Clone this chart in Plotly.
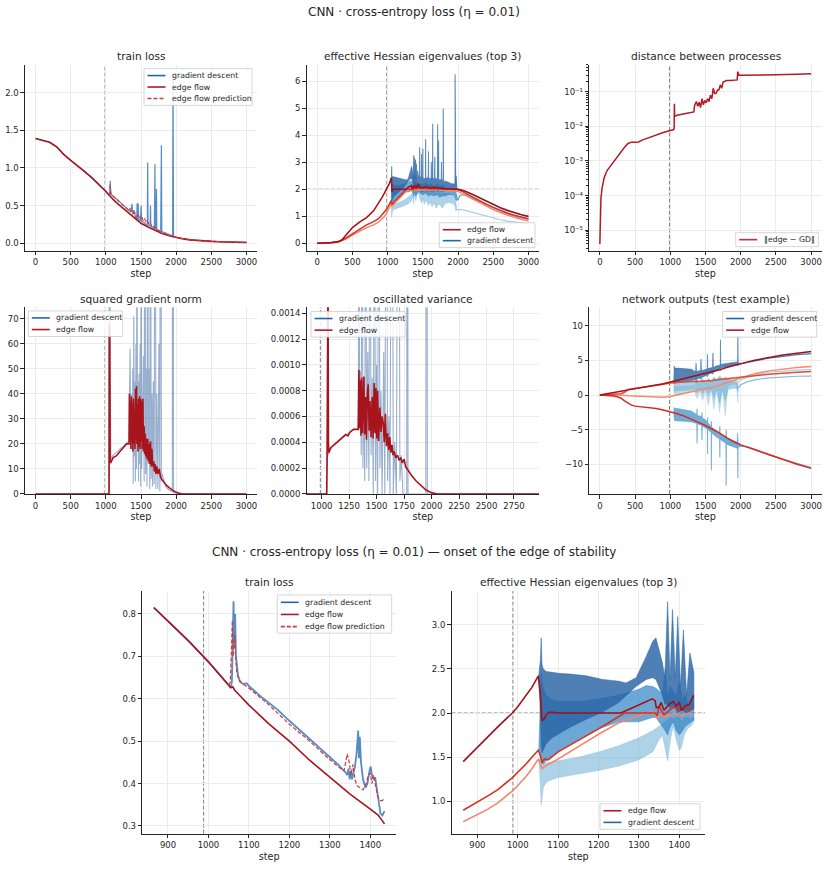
import plotly.graph_objects as go

W, H = 828, 896
FONT = "DejaVu Sans"
INK = "#262626"

# ======================= DATA =======================
# --- train loss (full run) ---
loss_ef_x = [0,100,200,300,400,500,600,700,800,865,900,950,987,1000,1050,1055,1060,1065,1075,1100,
             1150,1200,1250,1300,1350,1400,1420,1435,1500,1600,1700,1800,1900,2000,2100,2200,2300,2400,2500,2600,
             2700,2800,2900,3000]
loss_ef = [1.39,1.37,1.34,1.28,1.18,1.10,1.03,0.95,0.87,0.815,0.783,0.737,0.70,0.687,0.632,0.626,0.628,0.62,0.61,0.585,
           0.54,0.50,0.455,0.415,0.375,0.34,0.325,0.305,0.265,0.215,0.17,0.13,0.10,0.075,0.058,0.045,0.036,0.030,0.025,0.021,
           0.018,0.015,0.013,0.011]

loss_gd_x = [0,100,200,300,400,500,600,700,800,865,
             900,950,987,1000,1050,1055,1058,1060,1062,1064,
             1066,1068,1070,1073,1078,1085,1095,1100,1130,1170,
             1200,1250,1290,1320,1340,1343,1346,1349,1352,1355,
             1358,1362,1366,1370,1372,1374,1377,1382,1388,1393,
             1398,1401,1404,1408,1412,1416,1420,1425,1430,1435,
             1440,1445,1450,1460,1466,1490,1497,1502,1508,1540,
             1560,1590,1595,1600,1630,1635,1640,1690,1698,1703,
             1715,1720,1725,1780,1790,1796,1950,1955,1960,1963,
             2000,2100,2200,2300,2400,2500,2600,2700,2800,2900,3000]
loss_gd = [1.39,1.37,1.34,1.28,1.18,1.10,1.03,0.95,0.87,0.815,
           0.783,0.737,0.70,0.687,0.632,0.626,0.64,0.72,0.83,0.72,
           0.80,0.70,0.68,0.655,0.64,0.635,0.636,0.63,0.605,0.575,
           0.548,0.505,0.47,0.445,0.425,0.42,0.435,0.41,0.43,0.41,
           0.425,0.44,0.47,0.525,0.46,0.51,0.45,0.41,0.39,0.40,
           0.43,0.44,0.42,0.41,0.415,0.39,0.36,0.33,0.325,0.335,
           0.33,0.53,0.32,0.53,0.31,0.30,0.38,0.50,0.29,0.28,
           0.26,0.245,1.07,0.24,0.23,0.50,0.225,0.2,1.05,0.2,
           0.19,0.72,0.185,0.16,1.30,0.155,0.1,2.26,1.42,0.09,
           0.08,0.06,0.046,0.037,0.030,0.025,0.021,0.018,0.015,0.013,0.011]

loss_pred_x = [1050,1054,1057,1059,1061,1063,1065,1067,1070,1075,
               1085,1100,1150,1200,1250,1290,1320,1335,1343,1348,
               1352,1357,1362,1367,1375,1382,1390,1395,1400,1404,
               1408,1412,1418,1425,1430,1435,1450,1470,1490,1510,
               1530,1550,1570,1590,1610,1630,1650,1670,1700,1750,
               1800,1900,2000,2200,2500,3000]
loss_pred = [0.632,0.64,0.72,0.785,0.70,0.72,0.75,0.70,0.66,0.645,
             0.635,0.625,0.585,0.54,0.50,0.465,0.44,0.43,0.47,0.45,
             0.42,0.445,0.41,0.395,0.39,0.385,0.40,0.42,0.425,0.40,
             0.42,0.40,0.37,0.36,0.36,0.365,0.36,0.38,0.33,0.36,
             0.30,0.33,0.28,0.30,0.25,0.27,0.23,0.24,0.2,0.17,
             0.14,0.105,0.078,0.046,0.025,0.011]

# --- effective Hessian eigenvalues: edge flow (top 3) ---
eig1_x = [0,100,200,300,350,400,450,500,600,700,
          800,865,880,900,925,950,975,987,1000,1020,
          1035,1051,1056,1060,1065,1072,1080,1100,1200,1255,
          1280,1300,1320,1333,1340,1343,1350,1355,1362,1375,
          1385,1392,1400,1405,1415,1425,1435,1450,1500,1550,
          1600,1650,1700,1750,1800,1850,1900,1950,2000,2050,
          2100,2200,2300,2400,2500,2600,2700,2800,2900,3000]
eig1 = [0,0.01,0.03,0.07,0.12,0.28,0.45,0.58,0.78,0.95,
        1.2,1.45,1.52,1.61,1.72,1.84,1.95,2.0,2.07,2.19,
        2.29,2.42,2.2,1.91,1.93,1.99,2.01,2.0,2.0,2.0,
        2.05,2.09,2.13,2.16,2.14,2.06,2.07,2.12,2.03,2.10,
        2.13,2.08,2.12,2.03,2.08,2.10,2.20,2.08,2.06,2.1,
        2.04,2.07,2.05,2.04,2.03,2.02,2.02,2.01,2.0,1.97,
        1.93,1.82,1.69,1.56,1.43,1.32,1.22,1.13,1.06,1.0]
eig2_x = [0,100,200,300,400,500,600,700,800,865,
          900,925,950,975,987,1000,1020,1035,1051,1056,
          1060,1066,1075,1100,1150,1200,1250,1265,1300,1340,
          1345,1350,1355,1362,1375,1390,1400,1415,1425,1435,
          1500,1600,1700,1800,1900,2000,2050,2100,2200,2300,
          2400,2500,2600,2700,2800,2900,3000]
eig2 = [0,0.005,0.02,0.06,0.18,0.35,0.52,0.68,0.8,0.9,
        0.99,1.06,1.13,1.22,1.27,1.33,1.42,1.5,1.58,1.52,
        1.44,1.48,1.47,1.56,1.69,1.82,1.96,2.0,2.0,2.0,
        1.97,2.08,2.03,1.98,2.03,2.08,2.02,2.06,2.05,2.05,
        2.03,2.02,2.02,2.01,2.0,1.99,1.93,1.86,1.72,1.58,
        1.45,1.33,1.22,1.12,1.04,0.97,0.91]
eig3_x = [0,100,200,300,400,500,600,700,800,865,
          900,925,950,975,987,1000,1020,1035,1051,1056,
          1060,1068,1100,1150,1200,1250,1300,1333,1341,1348,
          1355,1362,1375,1390,1400,1415,1425,1435,1500,1600,
          1700,1800,1900,1950,2000,2050,2100,2200,2300,2400,
          2500,2600,2700,2800,2900,3000]
eig3 = [0,0.005,0.015,0.05,0.15,0.3,0.45,0.58,0.68,0.77,
        0.85,0.91,0.98,1.07,1.12,1.18,1.28,1.37,1.48,1.42,
        1.37,1.40,1.48,1.62,1.76,1.89,1.97,2.02,1.96,1.94,
        1.99,1.96,1.97,2.0,1.96,1.99,2.0,1.97,1.98,1.98,
        1.97,1.96,1.96,1.95,1.93,1.85,1.78,1.64,1.5,1.37,
        1.25,1.14,1.04,0.96,0.89,0.82]

# --- effective Hessian eigenvalues: gradient descent (oscillation envelopes + late lines) ---
gd_b1_x = [1052,1056,1058,1060,1063,1070,1085,1100,1130,1170,
           1210,1250,1268,1293,1318,1334,1342,1350,1358,1364,
           1371,1377,1383,1390,1396,1403,1410,1418,1426,1436,
           1440,1451,1455,1459,1476,1480,1484,1496,1500,1504,
           1536,1540,1544,1576,1580,1584,1616,1620,1624,1636,
           1640,1644,1666,1670,1674,1706,1710,1714,1720,1724,
           1728,1760,1764,1768,1786,1790,1794,1830,1870,1910,
           1940,1955,1958,1961,1968,1972,1976,1985,2000]
gd_b1_up = [2.42,2.6,2.85,2.55,2.5,2.47,2.46,2.45,2.44,2.42,
            2.38,2.36,2.34,2.40,2.64,2.81,2.85,2.72,2.57,2.4,
            3.26,2.38,3.17,2.4,3.09,2.3,2.94,2.2,2.68,2.46,
            2.45,2.45,3.55,2.45,2.45,3.3,2.45,2.45,3.5,2.4,
            2.4,3.85,2.4,2.45,3.4,2.4,2.4,3.0,2.4,2.45,
            4.42,2.4,2.4,3.2,2.4,2.4,4.4,2.4,2.4,3.8,
            2.35,2.35,3.0,2.35,2.35,4.98,2.3,2.3,2.25,2.2,
            2.2,2.2,6.25,2.15,2.1,2.5,2.05,2.03,2.0]
gd_b1_lo = [2.42,2.0,1.6,1.55,1.58,1.65,1.72,1.76,1.84,1.93,
            2.01,2.12,2.2,2.3,2.38,2.4,2.38,2.3,2.2,2.1,
            2.1,2.05,2.08,2.05,2.0,2.05,2.02,2.0,2.02,2.05,
            2.0,1.95,1.95,1.95,2.0,1.9,2.0,1.95,1.9,2.0,
            1.95,1.9,1.95,2.0,1.9,2.0,1.95,1.9,1.95,2.0,
            1.9,2.0,1.95,1.9,1.95,2.0,1.9,2.0,1.95,1.9,
            1.95,2.0,1.9,2.0,1.95,1.9,1.95,2.0,2.0,2.0,
            2.0,2.0,2.0,2.0,1.98,1.95,1.98,1.98,1.98]
gd_b2_x = [1052,1056,1058,1062,1070,1085,1100,1150,1200,1250,
           1300,1318,1334,1342,1350,1358,1365,1371,1378,1385,
           1392,1400,1408,1415,1422,1430,1436,
           1460,1500,1540,1580,1620,1660,1700,1740,1780,1820,
           1860,1900,1940,1960,1970,1985,2000]
gd_b2_up = [1.58,2.2,2.45,2.3,2.2,2.15,2.13,2.13,2.16,2.2,
            2.27,2.31,2.30,2.28,2.25,2.22,2.5,2.2,2.3,2.25,
            2.2,2.35,2.15,2.2,2.1,2.15,2.2,
            2.2,2.15,2.25,2.15,2.2,2.1,2.2,2.1,2.15,2.05,
            2.05,2.0,1.95,1.95,1.9,1.75,1.62]
gd_b2_lo = [1.58,1.5,1.45,1.42,1.46,1.52,1.57,1.7,1.82,1.9,
            1.9,1.93,1.95,1.95,1.9,1.85,1.8,1.75,1.85,1.9,
            1.8,1.75,1.8,1.85,1.88,1.9,1.92,
            1.85,1.8,1.85,1.75,1.8,1.75,1.8,1.7,1.75,1.75,
            1.8,1.8,1.8,1.7,1.6,1.58,1.6]
gd_b3_x = [1052,1056,1058,1060,1063,1068,1075,1100,1150,1200,
           1250,1300,1334,1350,1358,1365,1371,1378,1385,1392,
           1400,1405,1412,1420,1428,1436,
           1450,1480,1500,1520,1550,1580,1600,1630,1660,1690,
           1720,1750,1780,1810,1850,1900,1940,1960,1966,1972,
           1980,1990,2000]
gd_b3_up = [1.48,1.46,1.45,1.45,1.44,1.43,1.44,1.46,1.5,1.56,
            1.63,1.72,1.8,1.85,1.88,1.9,1.92,1.95,1.93,1.95,
            1.97,1.9,1.95,1.95,1.93,1.95,
            1.95,1.93,1.95,1.9,1.93,1.9,1.92,1.88,1.9,1.85,
            1.88,1.85,1.87,1.85,1.85,1.82,1.8,1.75,1.5,1.3,
            1.28,1.26,1.25]
gd_b3_lo = [1.48,1.2,0.96,1.05,1.15,1.2,1.23,1.27,1.31,1.35,
            1.4,1.47,1.56,1.7,1.75,1.6,1.46,1.7,1.85,1.7,
            1.58,1.61,1.75,1.82,1.85,1.9,
            1.7,1.5,1.65,1.45,1.6,1.4,1.55,1.35,1.5,1.3,
            1.45,1.4,1.3,1.45,1.5,1.5,1.45,1.35,1.2,1.2,
            1.22,1.23,1.24]
gd_eig1_late_x = [2000,2050,2100,2200,2300,2400,2500,2600,2700,2800,2900,3000]
gd_eig1_late = [1.98,1.96,1.92,1.81,1.68,1.55,1.42,1.31,1.21,1.12,1.05,0.98]
gd_eig2_late_x = [2000,2030,2100,2200,2300,2400,2500,2600,2700,2800,2900,3000]
gd_eig2_late = [1.62,1.78,1.8,1.68,1.55,1.42,1.30,1.19,1.09,1.01,0.94,0.88]
gd_eig3_late_x = [2000,2050,2100,2200,2300,2400,2500,2600,2700,2800,2900,3000]
gd_eig3_late = [1.24,1.25,1.22,1.15,1.07,1.0,0.93,0.87,0.82,0.78,0.75,0.72]

# --- distance between processes ---
dist_x = [0,3,8,15,30,60,100,150,200,250,
          300,350,400,450,500,550,600,700,800,900,
          1000,1050,1055,1058,1062,1070,1100,1200,1300,1335,
          1345,1355,1370,1390,1410,1430,1450,1470,1490,1510,
          1530,1550,1570,1590,1610,1630,1650,1670,1690,1710,
          1730,1750,1780,1800,1850,1900,1950,1958,1965,1975,
          2000,2200,2500,2800,3000]
dist = [4.0e-6,1.6e-5,4.0e-5,8e-5,1.6e-4,3.2e-4,5.2e-4,7.1e-4,1.05e-3,1.4e-3,
        1.9e-3,2.5e-3,3.2e-3,3.5e-3,3.5e-3,3.55e-3,4.0e-3,4.8e-3,5.6e-3,6.6e-3,
        7.6e-3,8.1e-3,8.9e-3,0.045,0.02,0.02,0.021,0.023,0.025,0.026,
        0.04,0.045,0.052,0.038,0.05,0.035,0.063,0.042,0.056,0.048,
        0.063,0.052,0.079,0.063,0.126,0.089,0.089,0.112,0.112,0.158,
        0.126,0.19,0.2,0.21,0.21,0.21,0.22,0.38,0.32,0.30,
        0.30,0.30,0.31,0.32,0.33]

# --- squared gradient norm ---
sq_ef_x = [0,1000,1046,1049,1055,1061,1071,1104,1152,1200,
           1247,1295,1330,1335,1342,1350,1356,1363,1369,1376,
           1383,1392,1399,1407,1414,1422,1428,1436,1442,1450,
           1457,1465,1472,1480,1487,1495,1502,1510,1518,1527,
           1535,1545,1552,1560,1568,1578,1586,1596,1605,1615,
           1625,1635,1645,1655,1665,1680,1690,1700,1712,1725,
           1740,1760,1775,1790,1820,1860,1900,1950,2000,2040,
           2080,3000]
sq_ef = [0,0,0,68,61,13,12.6,14.5,15.3,17,
         18.6,20,20,40,22,37,18,39,21,36,
         17,38,20,33,18,42,22,43,20,36,
         17,38,19,39,18,38,21,37,18,38,
         17,27,16,24,15,22,14,22,13,20,
         12,21,11,18,11,13,9,12,8,11,
         8,10,7,6,5,3.5,2.5,1.4,0.7,0.2,
         0,0]
sq_gd_x = [0,1000,1044,1047,1052,1056,1060,1070,1100,1150,
           1200,1250,1300,1330,1345,1352,1360,1368,1375,1383,
           1390,1397,1405,1412,1420,1428,1436,1443,1450,1458,
           1465,1473,1480,1488,1495,1503,1510,1518,1526,1535,
           1545,1555,1565,1575,1585,1595,1605,1615,1625,1635,
           1645,1655,1665,1675,1688,1700,1712,1725,1740,1755,
           1768,1780,1790,1800,1850,1900,1945,1955,1962,1970,
           2000,2050,3000]
sq_gd = [0,0,0,90,62,100,14,14,15.5,16.5,
         18,19,20.5,21,58,30,40,35,20,50,
         4,71,15,45,5,60,10,150,20,45,
         5,48,12,60,3,140,10,35,30,55,
         5,200,8,50,3,160,12,50,2,180,
         6,40,3,45,4,250,2,40,2,60,
         1,300,5,8,3,1.5,1,400,0.5,0.5,
         0.3,0,0]

# --- oscillated variance ---
var_ef_x = [864,1046,1050,1054,1058,1062,1066,1075,1085,1100,
            1150,1200,1220,1240,1260,1290,1320,1333,1339,1345,
            1352,1358,1365,1372,1384,1392,1400,1408,1416,1424,
            1432,1440,1450,1460,1469,1478,1486,1494,1502,1510,
            1518,1530,1540,1550,1560,1570,1580,1590,1600,1610,
            1620,1630,1640,1650,1660,1675,1690,1705,1720,1735,
            1750,1765,1790,1820,1860,1900,1950,2000,2050,2978]
var_ef = [0,0,0.0003,0.0016,0.0016,0.0004,0.00032,0.00034,0.00036,0.00037,
          0.00041,0.00045,0.00046,0.00045,0.00048,0.0005,0.0005,0.0005,0.00096,0.00051,
          0.00088,0.00045,0.0009,0.00047,0.00091,0.00046,0.00075,0.00042,0.00078,0.00085,
          0.00049,0.00072,0.00044,0.00075,0.00043,0.00086,0.00047,0.00082,0.00043,0.0008,
          0.00041,0.00067,0.00048,0.0006,0.00055,0.0004,0.00062,0.00037,0.00047,0.00034,
          0.00044,0.00032,0.00038,0.0003,0.00033,0.00028,0.0003,0.00026,0.00028,0.00024,
          0.00027,0.00021,0.00018,0.00014,0.0001,0.00007,0.00003,0.00001,0.0,0.0]
var_gd_x = [864,1046,1050,1054,1058,1062,1070,1100,1200,1300,
            1333,1340,1346,1352,1360,1368,1376,1384,1392,1400,
            1410,1420,1430,1440,1450,1460,1470,1480,1490,1500,
            1510,1520,1530,1540,1550,1565,1575,1590,1600,1612,
            1622,1640,1652,1665,1680,1700,1712,1725,1740,1774,
            1780,1786,1850,1948,1955,1962,2978]
var_gd = [0,0,0.0004,0.003,0.0012,0.0003,0.00034,0.00037,0.00045,0.0005,
          0.0005,0.0025,0.0005,0.00095,0.0003,0.003,0.0002,0.0009,0.0001,0.0028,
          0.0002,0.0011,0.0001,0.003,0.0003,0.0009,0.0,0.003,0.0001,0.001,
          0.0,0.0035,0.0002,0.0008,0.0,0.0011,0.0,0.004,0.0001,0.0006,
          0.0,0.0045,0.0,0.0004,0.0,0.005,0.0001,0.0003,0.0,0.0,
          0.006,0.0,0.0,0.0,0.008,0.0,0.0]

# --- network outputs (test example): edge flow, 4 logits ---
out1_x = [0,100,200,300,400,500,600,700,800,900,1000,1100,1200,1300,1400,1500,1600,1700,1800,1900,2000,2100,2200,2400,2600,2800,3000]
out1 = [0,0.15,0.35,0.55,0.75,0.92,1.08,1.25,1.45,1.65,1.9,2.15,2.35,2.55,2.8,3.05,3.3,3.65,4.0,4.3,4.55,4.8,5.05,5.45,5.8,6.05,6.3]
out2_x = [0,100,200,300,350,400,500,600,700,800,900,1000,1100,1200,1300,1400,1500,1600,1700,1800,1900,2000,2100,2200,2400,2600,2800,3000]
out2 = [0,0.05,0.1,0.2,0.4,0.8,0.95,1.08,1.22,1.4,1.55,1.75,1.85,1.9,1.95,1.97,2.0,2.12,2.25,2.38,2.5,2.6,2.7,2.8,3.0,3.2,3.3,3.4]
out3_x = [0,100,200,300,400,500,600,700,800,900,1000,1100,1200,1300,1400,1500,1600,1700,1800,1900,2000,2100,2200,2400,2600,2800,3000]
out3 = [0,0.02,0.03,0.0,-0.1,-0.15,-0.2,-0.25,-0.3,-0.3,-0.2,0.05,0.3,0.55,0.75,0.95,1.1,1.4,1.75,2.1,2.5,2.85,3.1,3.5,3.8,4.0,4.15]
out4_x = [0,100,200,250,300,350,400,450,500,600,700,800,900,1000,1100,1200,1300,1400,1500,1600,1700,1800,1900,2000,2100,2200,2400,2600,2800,3000]
out4 = [0,-0.05,-0.15,-0.25,-0.45,-0.85,-1.2,-1.45,-1.6,-1.7,-1.8,-1.95,-2.15,-2.4,-2.7,-3.05,-3.45,-3.95,-4.4,-4.9,-5.5,-6.15,-6.75,-7.2,-7.55,-7.9,-8.7,-9.35,-10.0,-10.6]

# --- network outputs: gradient descent envelopes + late lines ---
gdo1_x = [1050,1055,1060,1100,1200,1300,1340,1360,1366,1372,1400,1430,1436,1442,1470,1500,1524,1528,1532,1560,
          1600,1606,1612,1650,1700,1709,1713,1717,1750,1800,1850,1900,1950,1956,1960,1964,2000]
gdo1_up = [1.95,4.2,3.9,3.9,3.85,3.75,3.5,3.4,4.6,3.4,3.5,3.55,5.2,3.6,3.6,3.7,3.8,5.9,3.8,3.9,
           4.0,6.1,4.0,4.2,4.3,4.5,8.0,4.4,4.5,4.6,4.7,4.75,4.8,4.8,8.5,4.7,4.55]
gdo1_lo = [1.95,1.6,1.8,1.85,2.0,2.1,2.2,2.2,1.8,2.3,2.4,2.5,2.2,2.5,2.7,2.8,2.9,2.6,2.9,3.1,
           3.2,3.0,3.3,3.5,3.7,3.8,3.5,3.9,4.0,4.1,4.2,4.3,4.4,4.4,4.2,4.45,4.5]
gdo2_x = [1050,1056,1062,1100,1200,1300,1340,1380,1420,1460,1500,1540,1580,1620,1660,1700,1740,1780,1820,1860,1900,1940,1960,1965]
gdo2_up = [1.8,2.1,2.0,2.0,2.0,2.0,1.9,2.2,1.9,2.3,2.0,2.4,2.1,2.6,2.2,2.8,2.3,2.5,2.3,2.2,2.0,1.8,1.5,1.0]
gdo2_lo = [1.8,0.5,0.6,0.65,0.7,0.8,0.9,0.3,1.0,0.2,1.0,0.0,0.9,-0.5,0.8,-1.2,0.7,-0.8,0.8,0.9,1.0,1.0,0.5,1.0]
gdo3_x = [1050,1056,1062,1100,1200,1300,1340,1380,1420,1460,1500,1540,1580,1620,1660,1700,1740,1780,1820,1860,1900,1940,1960,1965]
gdo3_up = [-0.15,1.4,1.2,1.2,1.3,1.4,1.4,1.8,1.6,2.0,1.8,2.2,2.0,2.4,2.1,2.6,2.3,2.6,2.4,2.3,2.3,2.2,2.0,1.8]
gdo3_lo = [-0.15,-0.1,0.0,0.05,0.2,0.4,0.5,-0.5,0.6,-0.8,0.7,-1.5,0.8,-2.0,0.9,-2.5,1.0,-3.0,1.3,1.5,1.6,1.5,-1.0,1.8]
gdo4_x = [1050,1055,1060,1100,1200,1300,1340,1376,1380,1384,1420,1446,1450,1454,1490,1526,1530,1534,1560,1579,
          1583,1587,1620,1660,1700,1704,1708,1750,1789,1793,1797,1850,1900,1950,1956,1960,1964,2000]
gdo4_up = [-2.4,-1.8,-1.9,-1.95,-2.1,-2.3,-2.6,-2.8,-2.0,-3.0,-3.0,-3.2,-2.5,-3.3,-3.5,-3.9,-3.2,-4.0,-4.3,-4.5,
           -3.8,-4.6,-4.9,-5.2,-5.4,-4.5,-5.5,-5.8,-6.0,-5.0,-6.2,-6.4,-6.6,-6.8,-5.5,-6.6,-6.9,-7.1]
gdo4_lo = [-2.4,-3.3,-3.7,-3.75,-3.8,-3.9,-4.0,-4.1,-7.0,-4.2,-4.3,-4.4,-6.5,-4.5,-4.7,-4.9,-8.5,-5.0,-5.2,-5.4,
           -10.9,-5.5,-5.8,-6.1,-6.3,-9.0,-6.4,-6.7,-7.0,-13.1,-7.1,-7.3,-7.5,-7.7,-7.7,-12.0,-7.6,-7.4]
gd_out1_late_x = [2000,2100,2200,2400,2600,2800,3000]
gd_out1_late = [4.5,4.75,4.95,5.35,5.65,5.85,6.0]
gd_out2_late_x = [1965,2000,2100,2200,2400,2600,2800,3000]
gd_out2_late = [1.0,1.5,1.95,2.2,2.5,2.65,2.72,2.75]
gd_out3_late_x = [1965,2000,2100,2200,2400,2600,2800,3000]
gd_out3_late = [1.8,2.2,2.6,2.9,3.3,3.5,3.6,3.7]
gd_out4_late_x = [2000,2100,2200,2400,2600,2800,3000]
gd_out4_late = [-7.4,-7.5,-7.85,-8.65,-9.3,-9.9,-10.5]

eos_step = 988          # onset of edge of stability (vertical marker)
threshold = 2.0         # 2 / eta
zoom_lo, zoom_hi = 865, 1436

# sanity checks
for a, b in [(loss_ef_x, loss_ef), (loss_gd_x, loss_gd), (loss_pred_x, loss_pred), (eig1_x, eig1), (eig2_x, eig2),
             (eig3_x, eig3), (dist_x, dist), (sq_ef_x, sq_ef), (sq_gd_x, sq_gd), (var_ef_x, var_ef), (var_gd_x, var_gd),
             (out1_x, out1), (out2_x, out2), (out3_x, out3), (out4_x, out4)]:
    assert len(a) == len(b), (len(a), len(b))
for a, b, c in [(gd_b1_x, gd_b1_up, gd_b1_lo), (gd_b2_x, gd_b2_up, gd_b2_lo), (gd_b3_x, gd_b3_up, gd_b3_lo),
                (gdo1_x, gdo1_up, gdo1_lo), (gdo2_x, gdo2_up, gdo2_lo), (gdo3_x, gdo3_up, gdo3_lo), (gdo4_x, gdo4_up, gdo4_lo)]:
    assert len(a) == len(b) == len(c), (len(a), len(b), len(c))

# ======================= STYLE =======================
C_GD_LEG = "#2166ac"
C_EF_LEG = "#b2182b"
C_PRED = "#d03a3e"
C_EF = "#a8141c"
C_GD_LINE = "rgba(55,120,185,0.85)"
C_GD_THIN = "rgba(70,110,165,0.55)"
C_E1, C_E2, C_E3 = "#a50f15", "#d7301f", "#f4866b"
C_B1 = "rgba(40,100,165,0.82)"
C_B2 = "rgba(45,130,195,0.7)"
C_B3 = "rgba(107,174,214,0.55)"
C_O1, C_O2, C_O3, C_O4 = "#a50f15", "#e34a33", "#f8896b", "#d42b22"

panels = {  # pixel boxes of plot areas: x0, x1, ytop, ybottom
    1: (25, 257, 65, 252),
    2: (306.7, 539, 65, 252),
    3: (589.3, 821.7, 65, 252),
    4: (25, 257, 309, 496.7),
    5: (306.7, 539, 309, 496.7),
    6: (589.3, 821.7, 309, 496.7),
    7: (142.3, 396, 594.3, 838.3),
    8: (451.7, 705, 594.3, 838.3),
}

def xa(i):
    return "x" if i == 1 else f"x{i}"

def ya(i):
    return "y" if i == 1 else f"y{i}"

fig = go.Figure()

def line(i, xs, ys, color, width=1.5, dash=None):
    fig.add_trace(go.Scatter(x=xs, y=ys, mode="lines", xaxis=xa(i), yaxis=ya(i),
                             line=dict(color=color, width=width, dash=dash),
                             hoverinfo="skip", showlegend=False))

def band(i, xs, up, lo, color):
    fig.add_trace(go.Scatter(x=list(xs) + list(xs)[::-1], y=list(up) + list(lo)[::-1],
                             mode="lines", fill="toself", fillcolor=color,
                             line=dict(color=color, width=0.6), xaxis=xa(i), yaxis=ya(i),
                             hoverinfo="skip", showlegend=False))

def clip(xs, *cols, lo=zoom_lo, hi=zoom_hi):
    idx = [k for k, x in enumerate(xs) if lo <= x <= hi]
    return [[xs[k] for k in idx]] + [[c[k] for k in idx] for c in cols]

# ---- Panel 1: train loss ----
line(1, loss_gd_x, loss_gd, C_GD_LINE, 1.2)
line(1, loss_ef_x, loss_ef, C_EF, 1.6)
line(1, loss_pred_x, loss_pred, C_PRED, 1.1, "4px,2px")

# ---- Panel 2: eigenvalues ----
band(2, gd_b3_x, gd_b3_up, gd_b3_lo, C_B3)
band(2, gd_b2_x, gd_b2_up, gd_b2_lo, C_B2)
band(2, gd_b1_x, gd_b1_up, gd_b1_lo, C_B1)
line(2, gd_eig3_late_x, gd_eig3_late, "#a6cde4", 1.2)
line(2, gd_eig2_late_x, gd_eig2_late, "#5fa2d2", 1.2)
line(2, gd_eig1_late_x, gd_eig1_late, "#3a78b5", 1.2)
line(2, eig3_x, eig3, C_E3, 1.5)
line(2, eig2_x, eig2, C_E2, 1.5)
line(2, eig1_x, eig1, C_E1, 1.5)

# ---- Panel 3: distance ----
line(3, dist_x, dist, "#b01c24", 1.5)

# ---- Panel 4: squared gradient norm ----
line(4, sq_gd_x, sq_gd, C_GD_THIN, 1.1)
line(4, sq_ef_x, sq_ef, C_EF, 1.6)

# ---- Panel 5: oscillated variance ----
line(5, var_gd_x, var_gd, C_GD_THIN, 1.1)
line(5, var_ef_x, var_ef, C_EF, 1.6)

# ---- Panel 6: network outputs ----
band(6, gdo3_x, gdo3_up, gdo3_lo, "rgba(158,202,225,0.65)")
band(6, gdo2_x, gdo2_up, gdo2_lo, "rgba(107,174,214,0.55)")
band(6, gdo4_x, gdo4_up, gdo4_lo, "rgba(66,146,198,0.75)")
band(6, gdo1_x, gdo1_up, gdo1_lo, "rgba(40,100,165,0.8)")
line(6, gd_out3_late_x, gd_out3_late, "#a6cde4", 1.2)
line(6, gd_out2_late_x, gd_out2_late, "#86b9dc", 1.2)
line(6, gd_out4_late_x, gd_out4_late, "#6aa2d2", 1.2)
line(6, gd_out1_late_x, gd_out1_late, "#3a78b5", 1.2)
line(6, out3_x, out3, C_O3, 1.5)
line(6, out2_x, out2, C_O2, 1.5)
line(6, out4_x, out4, C_O4, 1.5)
line(6, out1_x, out1, C_O1, 1.5)

# ---- Panel 7: train loss (zoom) ----
gx, gy = clip(loss_gd_x, loss_gd)
line(7, gx, gy, C_GD_LINE, 1.8)
ex, ey = clip(loss_ef_x, loss_ef)
line(7, ex, ey, C_EF, 1.6)
px_, py_ = clip(loss_pred_x, loss_pred)
line(7, px_, py_, C_PRED, 1.2, "4px,2px")

# ---- Panel 8: eigenvalues (zoom) ----
for bx, bu, bl, col in [(gd_b3_x, gd_b3_up, gd_b3_lo, C_B3), (gd_b2_x, gd_b2_up, gd_b2_lo, C_B2),
                        (gd_b1_x, gd_b1_up, gd_b1_lo, C_B1)]:
    cx, cu, cl = clip(bx, bu, bl)
    band(8, cx, cu, cl, col)
for ex_, ey_, col in [(eig3_x, eig3, C_E3), (eig2_x, eig2, C_E2), (eig1_x, eig1, C_E1)]:
    cx, cy = clip(ex_, ey_)
    line(8, cx, cy, col, 1.6)

# ======================= LAYOUT =======================
tickfont = dict(family=FONT, size=8.5, color=INK)
layout = dict(width=W, height=H, margin=dict(l=0, r=0, t=0, b=0), paper_bgcolor="white",
              plot_bgcolor="white", showlegend=False, font=dict(family=FONT, color=INK))

base = dict(showline=True, linecolor=INK, linewidth=1.2, ticks="outside", ticklen=3.5, tickwidth=1,
            tickcolor=INK, showgrid=True, gridcolor="#ebebeb", gridwidth=0.8, zeroline=False,
            tickfont=tickfont)

xcfg = {
    1: dict(range=[-150, 3150], tick0=0, dtick=500),
    2: dict(range=[-150, 3150], tick0=0, dtick=500),
    3: dict(range=[-150, 3150], tick0=0, dtick=500),
    4: dict(range=[-150, 3150], tick0=0, dtick=500),
    5: dict(range=[864, 2978], tick0=1000, dtick=250),
    6: dict(range=[-150, 3150], tick0=0, dtick=500),
    7: dict(range=[836.5, 1463.5], tick0=900, dtick=100),
    8: dict(range=[836.5, 1463.5], tick0=900, dtick=100),
}
log_major = [1e-5, 1e-4, 1e-3, 1e-2, 1e-1]
log_labels = ["10\u207b\u2075", "10\u207b\u2074", "10\u207b\u00b3", "10\u207b\u00b2", "10\u207b\u00b9"]
log_minor = [k * m for m in [1e-6, 1e-5, 1e-4, 1e-3, 1e-2, 1e-1] for k in range(2, 10)]
ycfg = {
    1: dict(range=[-0.097, 2.37], tick0=0, dtick=0.5, tickformat=".1f"),
    2: dict(range=[-0.27, 6.61], tick0=0, dtick=1),
    3: dict(type="log", range=[-5.59, -0.217], tickmode="array", tickvals=log_major, ticktext=log_labels,
            minor=dict(tickmode="array", tickvals=log_minor, ticks="outside", ticklen=2,
                       tickcolor=INK, showgrid=False)),
    4: dict(range=[0, 74.6], tick0=0, dtick=10),
    5: dict(range=[0, 0.001446], tick0=0, dtick=0.0002, tickformat=".4f"),
    6: dict(range=[-14.3, 12.7], tick0=0, dtick=5),
    7: dict(range=[0.282, 0.854], tick0=0.3, dtick=0.1, tickformat=".1f"),
    8: dict(range=[0.636, 3.38], tick0=1.0, dtick=0.5, tickformat=".1f"),
}

for i, (x0, x1, yt, yb) in panels.items():
    xk = "xaxis" if i == 1 else f"xaxis{i}"
    yk = "yaxis" if i == 1 else f"yaxis{i}"
    layout[xk] = dict(base, domain=[x0 / W, x1 / W], anchor=ya(i),
                      title=dict(text="step", font=dict(family=FONT, size=9.6, color=INK), standoff=3),
                      **xcfg[i])
    layout[yk] = dict(base, domain=[1 - yb / H, 1 - yt / H], anchor=xa(i), **ycfg[i])

shapes = []
annotations = []

# vertical marker at the onset step, horizontal 2/eta threshold
for i in panels:
    shapes.append(dict(type="line", xref=xa(i), yref=f"{ya(i)} domain", x0=eos_step, x1=eos_step, y0=0, y1=1,
                       line=dict(color="#808080", width=1, dash="4px,2px"), layer="below"))
for i in (2, 8):
    shapes.append(dict(type="line", xref=f"{xa(i)} domain", yref=ya(i), x0=0, x1=1, y0=threshold, y1=threshold,
                       line=dict(color="#808080", width=1, dash="4px,2px"), layer="below"))

def P(x, y):
    return x / W, 1 - y / H

def legend(x0, y0, x1, entries, first=7.0, step=11.5):
    n = len(entries)
    y1 = y0 + 14 + step * (n - 1)
    ax0, ay0 = P(x0, y0)
    ax1, ay1 = P(x1, y1)
    shapes.append(dict(type="rect", xref="paper", yref="paper", x0=ax0, x1=ax1, y0=ay1, y1=ay0,
                       fillcolor="rgba(255,255,255,0.85)", line=dict(color="#cccccc", width=0.8),
                       layer="above"))
    for k, (label, color, dash) in enumerate(entries):
        yy = y0 + first + step * k
        hx0, hy = P(x0 + 3.5, yy)
        hx1, _ = P(x0 + 21.5, yy)
        shapes.append(dict(type="line", xref="paper", yref="paper", x0=hx0, x1=hx1, y0=hy, y1=hy,
                           line=dict(color=color, width=1.6, dash=dash), layer="above"))
        tx, ty = P(x0 + 26, yy)
        annotations.append(dict(text=label, x=tx, y=ty, xref="paper", yref="paper", xanchor="left",
                                yanchor="middle", showarrow=False,
                                font=dict(family=FONT, size=7.8, color=INK)))

GD = ("gradient descent", C_GD_LEG, None)
EF = ("edge flow", C_EF_LEG, None)
PR = ("edge flow prediction", C_PRED, "4px,2px")
legend(144, 69, 252, [GD, EF, PR])
legend(439.3, 224, 535, [EF, GD], step=11)
legend(735.7, 234, 818.3, [("\u2016edge \u2212 GD\u2016", "#c0303a", None)])
legend(28.3, 312.7, 122.7, [GD, EF], step=11.7)
legend(311, 313.3, 405, [GD, EF], step=11.7)
legend(722.7, 313.3, 816.7, [GD, EF], step=11.7)
legend(277.3, 598.3, 391.7, [GD, EF, PR], first=7.4, step=12.2)
legend(600, 808.3, 700, [EF, GD], step=11.7)

def text(s, x, y, size):
    tx, ty = P(x, y)
    annotations.append(dict(text=s, x=tx, y=ty, xref="paper", yref="paper", xanchor="center",
                            yanchor="middle", showarrow=False, font=dict(family=FONT, size=size, color=INK)))

text("CNN \u00b7 cross-entropy loss (\u03b7 = 0.01)", 414, 12, 12)
text("CNN \u00b7 cross-entropy loss (\u03b7 = 0.01) \u2014 onset of the edge of stability", 414, 555, 12)
titles = {1: "train loss", 2: "effective Hessian eigenvalues (top 3)", 3: "distance between processes",
          4: "squared gradient norm", 5: "oscillated variance", 6: "network outputs (test example)",
          7: "train loss", 8: "effective Hessian eigenvalues (top 3)"}
title_y = {1: 56, 2: 56, 3: 56, 4: 301, 5: 301, 6: 301, 7: 585, 8: 585}
for i, t in titles.items():
    x0, x1, _, _ = panels[i]
    text(t, (x0 + x1) / 2, title_y[i], 10.6)

layout["shapes"] = shapes
layout["annotations"] = annotations
fig.update_layout(**layout)
fig.write_html("out.html")
